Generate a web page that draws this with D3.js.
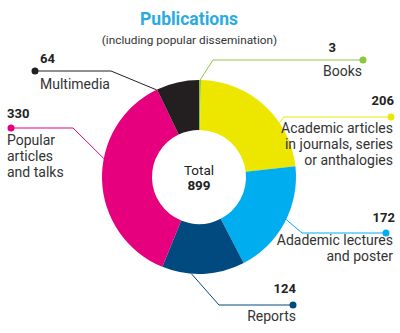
<!DOCTYPE html>
<html><head><meta charset="utf-8">
<script src="https://cdn.jsdelivr.net/npm/d3@7"></script>
<style>body{margin:0;background:#fff;}svg{display:block;font-family:Roboto,"Noto Sans",sans-serif;}</style>
</head><body><svg id="c" width="400" height="333"></svg>
<script>
const categories = ["Books","Academic articles in journals, series or anthalogies","Adademic lectures and poster","Reports","Popular articles and talks","Multimedia"];
const values = [3,206,172,124,330,64];
const total = 899;
const colors = ["#8cc63f","#ede700","#00aeef","#004a80","#e6007e","#231f20"];
const labelLines = [["Books"],["Academic articles","in journals, series","or anthalogies"],["Adademic lectures","and poster"],["Reports"],["Popular","articles","and talks"],["Multimedia"]];

// layout (positions only)
const cx=199, cy=177, R=97, r=47;
const layout = [
  {ang:0.6,  dot:[363,60],  elbow:[213,60],  anchor:"end",   numX:336, numY:52,  textX:362, textY:76},
  {ang:56,   dot:[391,117], elbow:[284,117], anchor:"end",   numX:394, numY:105, textX:393, textY:133},
  {ang:116,  dot:[386,233], elbow:[302,233], anchor:"end",   numX:395, numY:222, textX:393, textY:245},
  {ang:184.5,dot:[293,305], elbow:[219,305], anchor:"end",   numX:296, numY:293, textX:296, textY:321},
  {ang:281,  dot:[11,128],  elbow:[73,128],  anchor:"start", numX:7,   numY:118, textX:7,   textY:145},
  {ang:334,  dot:[35,71],   elbow:[111,71],  anchor:"start", numX:40,  numY:63,  textX:40,  textY:89}
];

const svg=d3.select("#c");
svg.append("text").attr("x",189).attr("y",25).attr("text-anchor","middle")
  .attr("font-size",17.5).attr("font-weight",700).attr("fill","#29abe2").text("Publications");
svg.append("text").attr("x",189.5).attr("y",44).attr("text-anchor","middle")
  .attr("font-size",11.8).attr("fill","#333").text("(including popular dissemination)");

const pie=d3.pie().sort(null).value(d=>d)(values);
const arc=d3.arc().innerRadius(r).outerRadius(R);
const g=svg.append("g").attr("transform",`translate(${cx},${cy})`);
g.selectAll("path").data(pie).join("path").attr("d",arc).attr("fill",(d,i)=>colors[i]);

g.append("text").attr("x",0).attr("y",-2).attr("text-anchor","middle").attr("font-size",13.5).attr("fill","#222").text("Total");
g.append("text").attr("x",0).attr("y",13).attr("text-anchor","middle").attr("font-size",13.5).attr("font-weight",700).attr("fill","#222").text(total);

layout.forEach((L,i)=>{
  const a=L.ang*Math.PI/180;
  const sx=cx+R*Math.sin(a), sy=cy-R*Math.cos(a);
  const col=colors[i];
  svg.append("polyline").attr("points",`${L.dot[0]},${L.dot[1]} ${L.elbow[0]},${L.elbow[1]} ${sx},${sy}`)
    .attr("fill","none").attr("stroke",col).attr("stroke-width",1);
  svg.append("circle").attr("cx",L.dot[0]).attr("cy",L.dot[1]).attr("r",3.5).attr("fill",col);
  svg.append("text").attr("x",L.numX).attr("y",L.numY).attr("text-anchor",L.anchor)
    .attr("font-size",13).attr("font-weight",700).attr("fill","#222").text(values[i]);
  labelLines[i].forEach((t,j)=>{
    svg.append("text").attr("x",L.textX).attr("y",L.textY+j*16).attr("text-anchor",L.anchor)
      .attr("font-size",14).attr("fill","#333").text(t);
  });
});
</script></body></html>
